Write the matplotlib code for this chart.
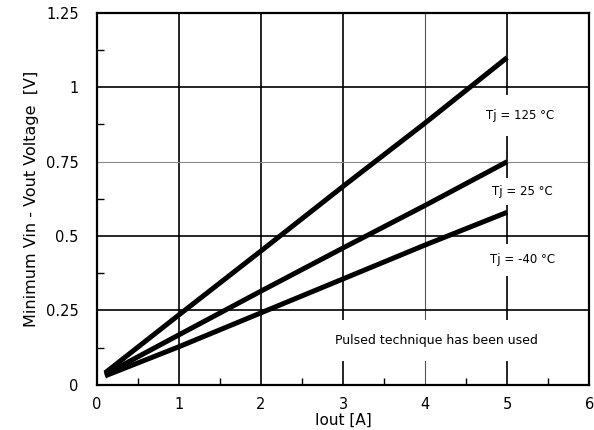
import matplotlib
matplotlib.use('Agg')
import matplotlib.pyplot as plt
from matplotlib.ticker import MultipleLocator

plt.rcParams['font.family'] = ['DejaVu Sans']

# Iout [A]
iout = [0.1, 1, 2, 3, 4, 5]
# dropout voltage [V] for each junction temperature
v_125 = [0.04, 0.235, 0.45, 0.667, 0.88, 1.1]
v_25 = [0.035, 0.168, 0.315, 0.46, 0.603, 0.75]
v_m40 = [0.03, 0.128, 0.242, 0.356, 0.47, 0.58]

labels = ['Tj = 125 °C', 'Tj = 25 °C', 'Tj = -40 °C']
label_pos = [(5.16, 0.905), (5.19, 0.65), (5.19, 0.42)]
label_pad = [10, 5, 7]

xticks = [0, 1, 2, 3, 4, 5, 6]
yticks = [0, 0.25, 0.5, 0.75, 1, 1.25]
ytick_labels = ['0', '0.25', '0.5', '0.75', '1', '1.25']

fig = plt.figure(figsize=(5.94, 4.30), dpi=100)
ax = fig.add_axes([0.163, 0.105, 0.829, 0.865])

ax.set_xlim(0, 6)
ax.set_ylim(0, 1.25)
ax.set_xticks(xticks)
ax.set_yticks(yticks)
ax.set_yticklabels(ytick_labels)
ax.xaxis.set_minor_locator(MultipleLocator(0.5))
ax.yaxis.set_minor_locator(MultipleLocator(0.125))
ax.tick_params(which='major', length=0, labelsize=10.5)
ax.tick_params(axis='y', which='major', pad=13)
ax.tick_params(axis='x', which='major', pad=9)
ax.tick_params(which='minor', direction='in', length=5, width=1, color='black')

ax.grid(True, which='major', color='black', linewidth=1.2)
# thinner grey grid lines in the reference
for i, gl in enumerate(ax.xaxis.get_gridlines()):
    if xticks[i] == 4:
        gl.set_color('#555555')
        gl.set_linewidth(0.8)
for i, gl in enumerate(ax.yaxis.get_gridlines()):
    if yticks[i] == 0.75:
        gl.set_color('#888888')
        gl.set_linewidth(0.8)
ax.set_axisbelow(True)

for s in ax.spines.values():
    s.set_linewidth(1.6)

for v in [v_125, v_25, v_m40]:
    ax.plot(iout, v, color='black', linewidth=3.6, solid_capstyle='butt', zorder=3)

for txt, (x, y), p in zip(labels, label_pos, label_pad):
    ax.text(x, y, txt, ha='center', va='center', fontsize=8.5, zorder=4,
            bbox=dict(facecolor='white', edgecolor='none', pad=p))

ax.text(4.14, 0.15, 'Pulsed technique has been used', ha='center', va='center',
        fontsize=9, zorder=4, bbox=dict(facecolor='white', edgecolor='none', pad=10))

ax.set_xlabel('Iout [A]', fontsize=11, labelpad=0)
ax.set_ylabel('Minimum Vin - Vout Voltage  [V]', fontsize=11.5, labelpad=5)

fig.savefig('out.png', dpi=100)
